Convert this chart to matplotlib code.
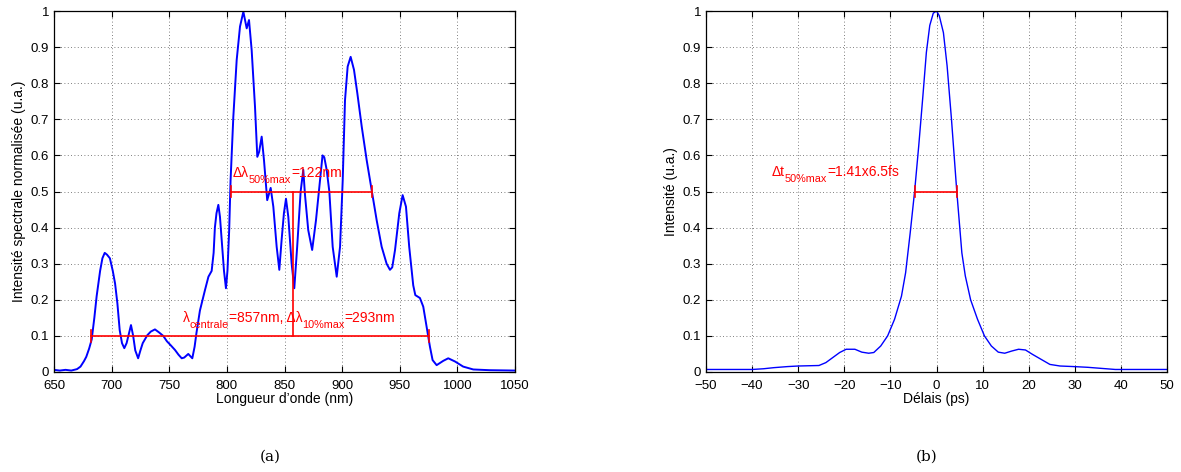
import numpy as np
import matplotlib.pyplot as plt

plt.rcParams['font.family'] = ['Liberation Sans', 'DejaVu Sans']

BLUE = '#0000ff'
RED = '#ff0000'

# (a) spectre : longueur d'onde (nm) / intensite normalisee
wavelength = [650, 655, 660, 665, 670, 673, 676, 678, 680.5, 682.7, 685, 687, 690, 692, 694,
              696, 698.5, 701, 703, 705, 707, 709, 711, 713, 714.5, 716.8, 718.7, 720.5, 723,
              725, 727, 731, 734, 737.6, 741, 744.8, 748, 751, 755, 758, 760.8, 763, 766.5,
              768, 770, 772, 773.6, 776.6, 781, 784, 786.8, 788.5, 789.6, 791, 792.6, 794,
              795.5, 797.5, 799.2, 800.5, 802, 803.2, 805.6, 808.5, 811.4, 814.3, 817.2,
              819.2, 821.5, 824.4, 826.4, 828, 830.2, 832.2, 835, 838, 840.3, 843.2, 845.5,
              847.5, 849.5, 851.3, 853.3, 856.2, 858.5, 861, 864, 866.3, 867.8, 870.6, 874,
              877.3, 880.2, 883, 884.5, 886.6, 888.9, 891.8, 895.3, 898.2, 900.5, 902.5,
              904.8, 907.4, 910.3, 913.2, 917, 921.3, 925.6, 930, 934.3, 938.6, 941.5, 943.5,
              945.9, 949.6, 952.5, 955.4, 958.2, 961.7, 963.5, 967.5, 970.4, 973.3, 976.2,
              978.5, 982, 987.8, 992.1, 998, 1005, 1013.8, 1028, 1050]
spectrum = [0.006, 0.004, 0.006, 0.004, 0.008, 0.015, 0.03, 0.042, 0.065, 0.09, 0.15, 0.21,
            0.28, 0.315, 0.33, 0.325, 0.315, 0.28, 0.245, 0.19, 0.116, 0.08, 0.066, 0.08, 0.10,
            0.13, 0.10, 0.06, 0.038, 0.06, 0.08, 0.102, 0.112, 0.118, 0.11, 0.10, 0.085, 0.075,
            0.061, 0.048, 0.038, 0.04, 0.05, 0.045, 0.038, 0.07, 0.108, 0.17, 0.227, 0.264,
            0.28, 0.33, 0.40, 0.44, 0.463, 0.43, 0.366, 0.28, 0.232, 0.28, 0.393, 0.53, 0.707,
            0.864, 0.957, 0.998, 0.952, 0.975, 0.892, 0.735, 0.596, 0.61, 0.652, 0.587, 0.476,
            0.51, 0.458, 0.347, 0.283, 0.366, 0.44, 0.48, 0.43, 0.30, 0.232, 0.347, 0.50, 0.56,
            0.49, 0.393, 0.338, 0.42, 0.513, 0.60, 0.595, 0.56, 0.50, 0.347, 0.264, 0.347,
            0.53, 0.753, 0.846, 0.873, 0.837, 0.772, 0.68, 0.587, 0.504, 0.42, 0.347, 0.30,
            0.283, 0.29, 0.338, 0.44, 0.49, 0.458, 0.347, 0.24, 0.213, 0.205, 0.181, 0.126,
            0.07, 0.033, 0.019, 0.031, 0.038, 0.029, 0.015, 0.007, 0.005, 0.004]

# (b) autocorrelation : delai (ps) / intensite
delay = [-50, -40, -37.5, -35.3, -32.3, -30, -25.5, -24, -22.5, -21, -19.6, -17.7, -16.2,
         -14.7, -13.6, -12.1, -10.6, -9.1, -7.6, -6.7, -5.7, -4.75, -3.85, -2.95, -2.2,
         -1.46, -0.7, 0, 0.6, 1.5, 2.3, 3.25, 4.4, 5.5, 6.25, 7.4, 8.9, 10.4, 11.9, 13.4,
         14.8, 16.3, 17.8, 19.3, 20.8, 22.7, 24.6, 26.8, 29.8, 32.8, 35.8, 38.8, 50]
autocorr = [0.007, 0.007, 0.009, 0.012, 0.015, 0.0166, 0.018, 0.026, 0.04, 0.054, 0.063,
            0.063, 0.055, 0.052, 0.054, 0.072, 0.10, 0.146, 0.21, 0.275, 0.386, 0.50, 0.627,
            0.765, 0.885, 0.96, 0.994, 1.0, 0.987, 0.94, 0.848, 0.70, 0.50, 0.33, 0.266, 0.20,
            0.146, 0.10, 0.072, 0.055, 0.052, 0.058, 0.063, 0.061, 0.049, 0.035, 0.021,
            0.0166, 0.015, 0.013, 0.010, 0.007, 0.007]

# largeurs mesurees
fwhm_a = (803.5, 925.5)
tenth_a = (682, 975)
center_a = 857
fwhm_b = (-4.7, 4.4)

yticks = [0, 0.1, 0.2, 0.3, 0.4, 0.5, 0.6, 0.7, 0.8, 0.9, 1]
ylabels = ['0', '0.1', '0.2', '0.3', '0.4', '0.5', '0.6', '0.7', '0.8', '0.9', '1']


def style_axes(ax):
    ax.set_yticks(yticks)
    ax.set_yticklabels(ylabels)
    ax.set_ylim(0, 1)
    ax.grid(True, linestyle=(0, (1, 3)), color='#555555', linewidth=0.6)
    ax.tick_params(direction='in', top=True, right=True, labelsize=9.5, length=4, width=0.8)
    ax.tick_params(axis='x', pad=5.5)
    ax.tick_params(axis='y', pad=3.5)
    for s in ax.spines.values():
        s.set_linewidth(0.9)


def capped_hline(ax, y, x0, x1, cap=0.016):
    ax.plot([x0, x1], [y, y], color=RED, lw=1.2)
    ax.plot([x0, x0], [y - cap, y + cap], color=RED, lw=1.2)
    ax.plot([x1, x1], [y - cap, y + cap], color=RED, lw=1.2)


def sub_text(ax, x, y, parts, drop=3.8):
    # parts: (texte, indice?) ; les indices sont plus petits et abaisses
    prev = ax.text(x, y, parts[0][0], color=RED, fontsize=10, va='bottom')
    prev_sub = parts[0][1]
    for s, is_sub in parts[1:]:
        dy = 0
        if is_sub and not prev_sub:
            dy = -drop
        elif prev_sub and not is_sub:
            dy = drop
        prev = ax.annotate(s, xy=(1, 0), xycoords=prev, xytext=(0, dy),
                           textcoords='offset points', va='bottom', ha='left',
                           color=RED, fontsize=7.8 if is_sub else 10)
        prev_sub = is_sub


fig = plt.figure(figsize=(11.81, 4.72), dpi=100)
ax1 = fig.add_axes([54 / 1181, 100 / 472, 461 / 1181, 361 / 472])
ax2 = fig.add_axes([706 / 1181, 100 / 472, 461 / 1181, 361 / 472])

# (a)
ax1.plot(wavelength, spectrum, color=BLUE, lw=1.4)
capped_hline(ax1, 0.5, *fwhm_a)
capped_hline(ax1, 0.1, *tenth_a)
ax1.plot([center_a, center_a], [0.1, 0.5], color=RED, lw=1.2)
sub_text(ax1, 805, 0.533, [('Δλ', False), ('50%max', True), ('=122nm', False)])
sub_text(ax1, 761.6, 0.131, [('λ', False), ('centrale', True), ('=857nm, Δλ', False),
                             ('10%max', True), ('=293nm', False)])
ax1.set_xlim(650, 1050)
ax1.set_xticks(np.arange(650, 1051, 50))
style_axes(ax1)
ax1.set_xlabel('Longueur d’onde (nm)', fontsize=10, labelpad=0)
ax1.set_ylabel('Intensité spectrale normalisée (u.a.)', fontsize=10, labelpad=3)

# (b)
ax2.plot(delay, autocorr, color=BLUE, lw=1.0)
capped_hline(ax2, 0.5, *fwhm_b)
sub_text(ax2, -35.75, 0.535, [('Δt', False), ('50%max', True), ('=1.41x6.5fs', False)])
ax2.set_xlim(-50, 50)
ax2.set_xticks(np.arange(-50, 51, 10))
style_axes(ax2)
ax2.set_xlabel('Délais (ps)', fontsize=10, labelpad=0)
ax2.set_ylabel('Intensité (u.a.)', fontsize=10, labelpad=3)

fig.text(270 / 1181, 1 - 457 / 472, '(a)', family='DejaVu Serif', fontsize=11,
         ha='center', va='center')
fig.text(927 / 1181, 1 - 457 / 472, '(b)', family='DejaVu Serif', fontsize=11,
         ha='center', va='center')

fig.savefig('out.png', dpi=100)
